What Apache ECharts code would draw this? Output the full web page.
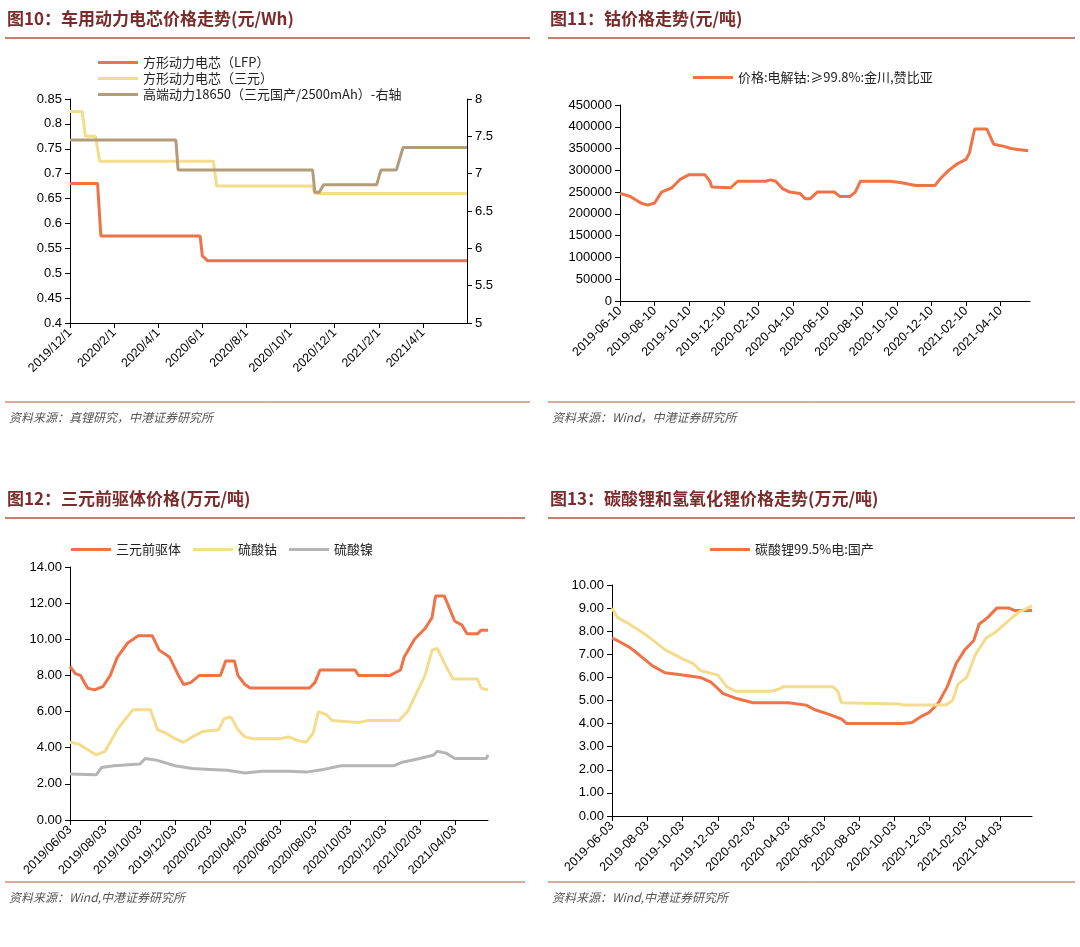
<!DOCTYPE html>
<html><head><meta charset="utf-8">
<script src="https://cdn.jsdelivr.net/npm/echarts@6/dist/echarts.min.js"></script>
<style>html,body{margin:0;padding:0;background:#fff}#c{width:1080px;height:947px}</style>
</head><body><div id="c"></div>
<script>
// x values = months since each panel's axis start date
const p1Start=[2019,12,1], p2Start=[2019,6,10], p3Start=[2019,6,3], p4Start=[2019,6,3];
const p1LFP=[[0,0.68],[1.25,0.68],[1.4,0.575],[5.9,0.575],[6.0,0.535],[6.25,0.525],[18,0.525]];
const p1NCM=[[0,0.825],[0.55,0.825],[0.7,0.775],[1.15,0.775],[1.35,0.725],[6.5,0.725],[6.65,0.675],[11.0,0.675],[11.1,0.66],[18,0.66]];
const p1Cell=[[0,7.45],[4.8,7.45],[4.9,7.05],[11.0,7.05],[11.1,6.75],[11.3,6.75],[11.5,6.85],[13.9,6.85],[14.1,7.05],[14.8,7.05],[15.1,7.35],[18,7.35]];
const p2Co=[[0,247000],[0.6,240000],[1.2,225000],[1.6,220000],[2.0,225000],[2.4,250000],[3.0,260000],[3.5,280000],[4.0,290000],[4.9,290000],[5.2,275000],[5.3,262000],[6.4,260000],[6.8,275000],[8.4,275000],[8.7,278000],[9.0,275000],[9.4,258000],[9.8,250000],[10.4,247000],[10.7,235000],[11.0,235000],[11.4,250000],[12.4,250000],[12.7,240000],[13.3,240000],[13.6,250000],[13.9,275000],[15.6,275000],[16.2,272000],[17.1,265000],[18.2,265000],[18.5,280000],[19.0,300000],[19.5,315000],[20.0,325000],[20.2,340000],[20.5,395000],[21.2,395000],[21.6,360000],[22.2,355000],[22.6,350000],[23.0,348000],[23.6,345000]];
const p3Pre=[[0,8.5],[0.3,8.1],[0.6,8.0],[1.0,7.3],[1.4,7.2],[1.9,7.4],[2.3,8.0],[2.7,9.0],[3.3,9.8],[3.9,10.2],[4.7,10.2],[5.1,9.4],[5.7,9.0],[6.2,8.0],[6.5,7.5],[6.9,7.6],[7.4,8.0],[8.6,8.0],[8.9,8.8],[9.4,8.8],[9.6,8.0],[10.0,7.5],[10.3,7.3],[13.7,7.3],[14.0,7.6],[14.3,8.3],[16.3,8.3],[16.5,8.0],[18.3,8.0],[18.9,8.3],[19.1,9.0],[19.7,10.0],[20.3,10.6],[20.7,11.2],[20.9,12.4],[21.4,12.4],[22.0,11.0],[22.4,10.8],[22.7,10.3],[23.3,10.3],[23.5,10.5],[23.9,10.5]];
const p3CoS=[[0,4.3],[0.5,4.2],[1.0,3.9],[1.5,3.6],[2.0,3.8],[2.3,4.3],[2.7,5.0],[3.1,5.5],[3.6,6.1],[4.6,6.1],[5.0,5.0],[5.5,4.8],[6.0,4.5],[6.5,4.3],[7.0,4.6],[7.6,4.9],[8.5,5.0],[8.8,5.6],[9.2,5.7],[9.6,5.0],[10.0,4.6],[10.5,4.5],[12.0,4.5],[12.5,4.6],[13.0,4.4],[13.5,4.3],[13.9,4.8],[14.2,6.0],[14.7,5.8],[15.0,5.5],[16.5,5.4],[17.0,5.5],[18.8,5.5],[19.3,6.0],[19.8,7.0],[20.3,8.0],[20.7,9.4],[21.0,9.5],[21.5,8.5],[21.9,7.8],[23.3,7.8],[23.5,7.3],[23.9,7.2]];
const p3NiS=[[0,2.55],[1.5,2.5],[1.8,2.9],[2.5,3.0],[4.0,3.1],[4.3,3.4],[5.0,3.3],[6.0,3.0],[7.0,2.85],[8.0,2.8],[9.0,2.75],[10.0,2.6],[11.0,2.7],[12.5,2.7],[13.5,2.65],[14.5,2.8],[15.5,3.0],[18.5,3.0],[19.0,3.2],[20.0,3.4],[20.8,3.6],[21.0,3.8],[21.5,3.7],[22.0,3.4],[23.8,3.4],[23.9,3.6]];
const p4Li2CO3=[[0,7.7],[0.3,7.6],[1,7.3],[1.5,7.0],[2.3,6.5],[3,6.2],[4,6.1],[5,6.0],[5.6,5.8],[6.3,5.3],[7,5.1],[8,4.9],[10,4.9],[11,4.8],[11.5,4.6],[12.3,4.4],[13,4.2],[13.3,4.0],[16.5,4.0],[17,4.05],[17.5,4.3],[18,4.5],[18.5,4.9],[19,5.6],[19.5,6.6],[20,7.2],[20.5,7.6],[20.8,8.3],[21.3,8.6],[21.8,9.0],[22.5,9.0],[22.8,8.9],[23.8,8.9]];
const p4LiOH=[[0,9.0],[0.3,8.6],[1,8.3],[2,7.8],[3,7.2],[4,6.8],[4.6,6.6],[5,6.3],[6,6.1],[6.5,5.6],[7,5.4],[9,5.4],[9.5,5.5],[9.7,5.6],[12.5,5.6],[12.8,5.4],[13,4.9],[16.3,4.85],[16.5,4.8],[18.9,4.8],[19.3,5.0],[19.6,5.7],[20.1,6.0],[20.6,7.0],[21.2,7.7],[21.8,8.0],[22.4,8.4],[23,8.8],[23.8,9.1]];
const titles=['图10：车用动力电芯价格走势(元/Wh)','图11：钴价格走势(元/吨)','图12：三元前驱体价格(万元/吨)','图13：碳酸锂和氢氧化锂价格走势(万元/吨)'];
const sources=['资料来源：真锂研究，中港证券研究所','资料来源：Wind，中港证券研究所','资料来源：Wind,中港证券研究所','资料来源：Wind,中港证券研究所'];

const C={o:'#f07247',y:'#f3dc8c',b:'#b39c7a',g:'#b5b5b5'};
const pad=n=>(n<10?'0':'')+n;
function fmt(start,v,style){
  let y=start[0],m=start[1]+Math.round(v);
  while(m>12){m-=12;y++;}
  if(style==1)return y+'/'+m+'/'+start[2];
  if(style==2)return y+'-'+pad(m)+'-'+pad(start[2]);
  return y+'/'+pad(m)+'/'+pad(start[2]);
}
const axC='#000';
function xAx(gi,start,max,style){
  return {type:'value',gridIndex:gi,min:0,max:max,interval:2,
    axisLine:{lineStyle:{color:axC}},axisTick:{show:true,lineStyle:{color:axC}},splitLine:{show:false},
    axisLabel:{rotate:45,color:'#000',fontSize:12.5,fontFamily:'Liberation Sans',showMaxLabel:false,margin:8,formatter:v=>fmt(start,v,style)}};
}
function yAx(gi,min,max,iv,fmtf,extra){
  return Object.assign({type:'value',gridIndex:gi,min:min,max:max,interval:iv,
    axisLine:{show:true,lineStyle:{color:axC}},axisTick:{show:true,inside:false,lineStyle:{color:axC}},splitLine:{show:false},
    axisLabel:{color:'#000',fontSize:13,fontFamily:'Liberation Sans',formatter:fmtf}},extra||{});
}
function ser(name,data,color,xi,yi){return {name:name,type:'line',data:data,xAxisIndex:xi,yAxisIndex:yi,symbol:'none',lineStyle:{width:3,color:color},itemStyle:{color:color}};}

const graphic=[];
const panels=[[5,530,20],[548,1075,20],[5,525,500],[548,1075,500]];
panels.forEach((p,i)=>{
  graphic.push({type:'text',left:p[0]+2,top:p[2]-10,style:{text:titles[i],fill:'#7b2b2b',font:'bold 17px "Noto Sans CJK SC"'}});
  graphic.push({type:'line',shape:{x1:p[0],y1:p[2]+18,x2:p[1],y2:p[2]+18},style:{stroke:'#b5553c',lineWidth:1.5}});
  const sy=p[2]+382;
  graphic.push({type:'line',shape:{x1:p[0],y1:sy,x2:p[1],y2:sy},style:{stroke:'#b5553c',lineWidth:1}});
  graphic.push({type:'text',left:p[0]+4,top:sy+9,style:{text:sources[i],fill:'#555',font:'italic 12px "Noto Sans CJK SC"'}});
});

const leg={textStyle:{fontSize:13,color:'#222',fontFamily:'Noto Sans CJK SC'},itemWidth:40,itemHeight:3,icon:'rect'};
const option={
  animation:false,
  graphic:graphic,
  legend:[
    Object.assign({},leg,{left:93,top:51,orient:'vertical',itemGap:3,data:['方形动力电芯（LFP）','方形动力电芯（三元）','高端动力18650（三元国产/2500mAh）-右轴']}),
    Object.assign({},leg,{left:688,top:66,data:['价格:电解钴:≥99.8%:金川,赞比亚']}),
    Object.assign({},leg,{left:66,top:538,itemGap:12,data:['三元前驱体','硫酸钴','硫酸镍']}),
    Object.assign({},leg,{left:705,top:538,data:['碳酸锂99.5%电:国产']})
  ],
  grid:[
    {left:70,right:613,top:99,bottom:624},
    {left:620,right:50,top:105,bottom:646},
    {left:70,right:592,top:567,bottom:127},
    {left:612,right:48,top:585,bottom:131}
  ],
  xAxis:[xAx(0,p1Start,18,1),xAx(1,p2Start,23.7,2),xAx(2,p3Start,23.9,3),xAx(3,p4Start,23.8,2)],
  yAxis:[
    yAx(0,0.4,0.85,0.05,v=>+v.toFixed(2)+''),
    yAx(0,5,8,0.5,v=>v+'',{position:'right'}),
    yAx(1,0,450000,50000,v=>v+''),
    yAx(2,0,14,2,v=>v.toFixed(2)),
    yAx(3,0,10,1,v=>v.toFixed(2))
  ],
  series:[
    ser('方形动力电芯（LFP）',p1LFP,C.o,0,0),
    ser('方形动力电芯（三元）',p1NCM,C.y,0,0),
    ser('高端动力18650（三元国产/2500mAh）-右轴',p1Cell,C.b,0,1),
    ser('价格:电解钴:≥99.8%:金川,赞比亚',p2Co,C.o,1,2),
    ser('三元前驱体',p3Pre,C.o,2,3),
    ser('硫酸钴',p3CoS,C.y,2,3),
    ser('硫酸镍',p3NiS,C.g,2,3),
    ser('碳酸锂99.5%电:国产',p4Li2CO3,C.o,3,4),
    ser('氢氧化锂',p4LiOH,C.y,3,4)
  ]
};
echarts.init(document.getElementById('c')).setOption(option);
</script></body></html>
